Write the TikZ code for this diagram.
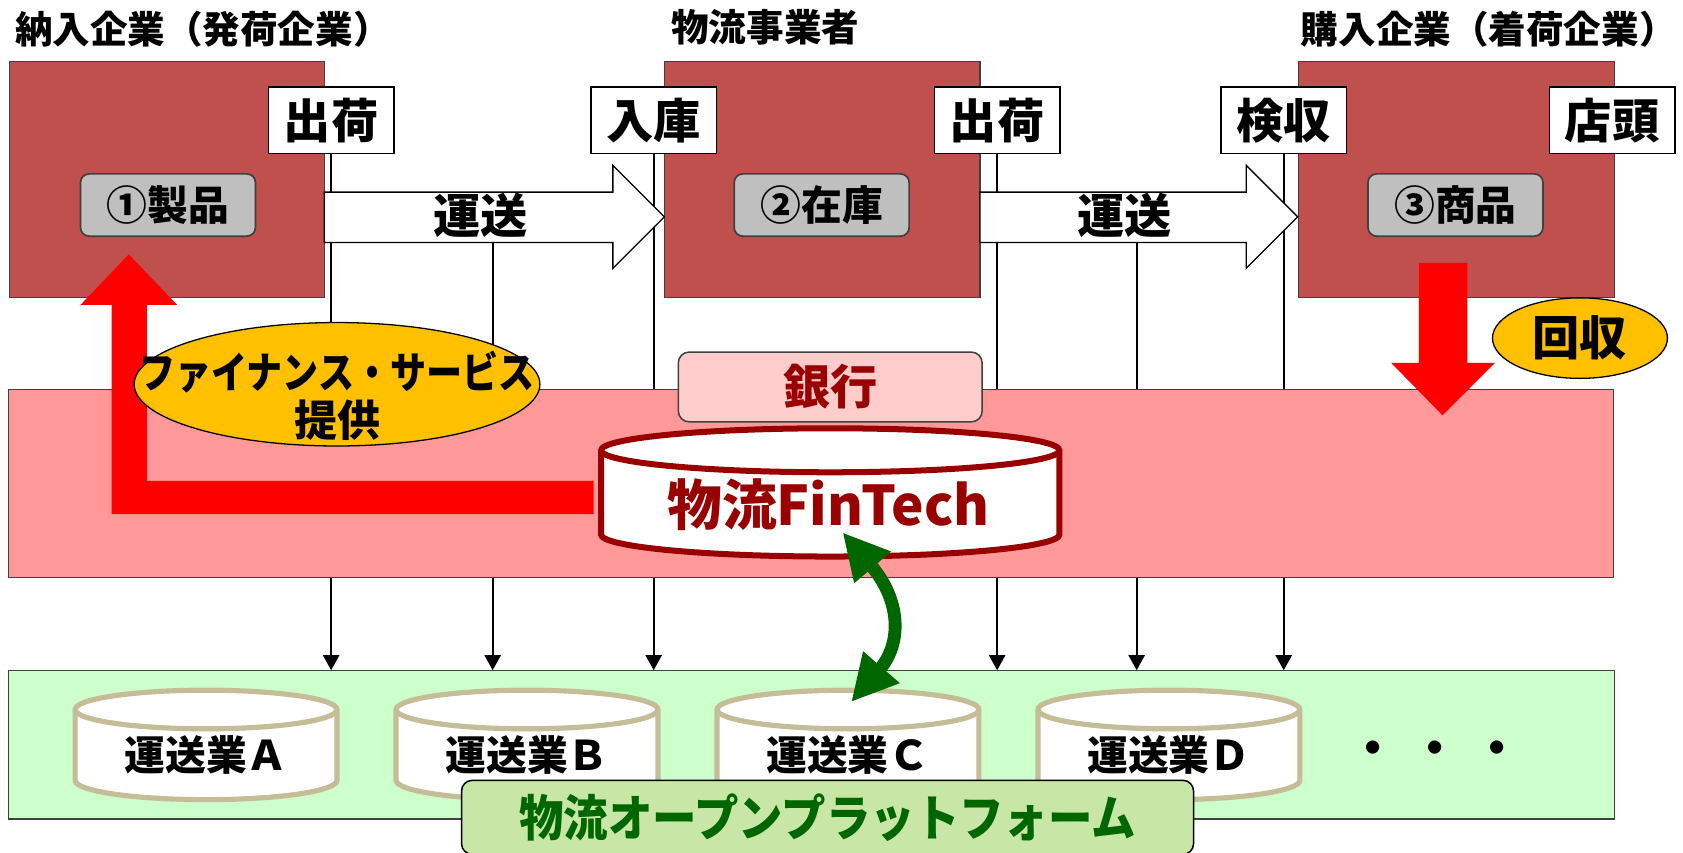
\documentclass[tikz,border=0pt]{standalone}
\usepackage{fontspec}
\usepackage{graphicx}
\setmainfont{Noto Sans CJK JP}
\usetikzlibrary{arrows.meta,shapes.geometric}
\definecolor{boxred}{HTML}{C0504D}
\definecolor{graybox}{HTML}{BFBFBF}
\definecolor{pinkband}{HTML}{FF9999}
\definecolor{bankpink}{HTML}{FFCCCC}
\definecolor{darkred}{HTML}{990000}
\definecolor{gold}{HTML}{FFC000}
\definecolor{brightred}{HTML}{FF0000}
\definecolor{lightgreen}{HTML}{CCFFCC}
\definecolor{tan}{HTML}{C4BD97}
\definecolor{platgreen}{HTML}{C8E6A5}
\definecolor{dkgreen}{HTML}{006600}
\definecolor{edgegray}{HTML}{404040}
\newcommand{\fsz}[1]{\fontsize{#1pt}{#1pt}\selectfont\bfseries}
% cylinder: #1 style, #2 L, #3 R, #4 top centre y, #5 bottom centre y, #6 rx (pt), #7 ry (pt)
\newcommand{\cylshape}[7]{%
  \path[#1] (#2,#4) -- (#2,#5) arc[start angle=180,end angle=360,x radius=#6pt,y radius=#7pt]
    -- (#3,#4) arc[start angle=0,end angle=180,x radius=#6pt,y radius=#7pt] -- cycle;
  \path[#1,fill=none] (#2,#4) arc[start angle=180,end angle=360,x radius=#6pt,y radius=#7pt];}
\tikzset{
  redbox/.style={draw=edgegray,line width=0.6pt,fill=boxred,minimum height=110pt,inner sep=0pt},
  grayrbox/.style={draw=edgegray,line width=0.8pt,fill=graybox,rounded corners=4pt,minimum width=81.5pt,minimum height=29pt,inner sep=0pt,font=\fsz{19}},
  lbl/.style={draw=black,line width=0.7pt,fill=white,minimum width=58.5pt,minimum height=31pt,inner sep=0pt,font=\fsz{22}},
  ttl/.style={font=\fsz{17.5},inner sep=0pt},
  vline/.style={line width=1pt,-{Triangle[length=7pt,width=7.5pt]}},
  whitearrow/.style={draw=black,line width=0.6pt,fill=white},
  redarrow/.style={fill=brightred},
  goldell/.style={ellipse,draw=black,line width=0.6pt,fill=gold,inner sep=0pt},
  cyltan/.style={draw=tan,line width=2.4pt,fill=white},
  cylred/.style={draw=darkred,line width=2.8pt,fill=white},
  cyltxt/.style={font=\fsz{19},inner sep=0pt},
}
\begin{document}
\begin{tikzpicture}[x=0.5pt,y=-0.5pt]
\clip (0,0) rectangle (1568,794);
\fill[white] (0,0) rectangle (1568,794);

% platform band
\node[draw=edgegray,line width=0.6pt,fill=lightgreen,minimum width=748pt,minimum height=69pt,inner sep=0pt] (plat) at (756,694) {};

% labels (needed for lines)
\node[lbl] (l1) at (308.5,112) {出荷};
\node[lbl] (l2) at (609,112) {入庫};
\node[lbl] (l3) at (929,112) {出荷};
\node[lbl] (l4) at (1196,112) {検収};
\coordinate (a1b) at (459,226);
\coordinate (a2b) at (1059,226);

% vertical lines
\draw[vline] (l1.south) -- (l1.south |- plat.north);
\draw[vline] (a1b) -- (a1b |- plat.north);
\draw[vline] (l2.south) -- (l2.south |- plat.north);
\draw[vline] (l3.south) -- (l3.south |- plat.north);
\draw[vline] (a2b) -- (a2b |- plat.north);
\draw[vline] (l4.south) -- (l4.south |- plat.north);

% titles
\node[ttl] (t1) at (189,27) {納入企業（発荷企業）};
\node[ttl] (t2) at (713,25) {物流事業者};
\node[ttl] (t3) at (1387,27) {購入企業（着荷企業）};

% company boxes
\node[redbox,minimum width=146.5pt] (b1) at (155.5,167) {};
\node[redbox,minimum width=147pt] (b2) at (766,167) {};
\node[redbox,minimum width=147pt] (b3) at (1357,167) {};

\node[grayrbox] (g1) at (156.5,191) {①製品};
\node[grayrbox] (g2) at (765.5,191) {②在庫};
\node[grayrbox] (g3) at (1356,191) {③商品};

% labels redrawn on top of boxes
\node[lbl] at (l1) {出荷};
\node[lbl] at (l2) {入庫};
\node[lbl] at (l3) {出荷};
\node[lbl] at (l4) {検収};
\node[lbl] (l5) at (1502,112) {店頭};

% transport arrows
\path[whitearrow] (302,179) -- (571,179) -- (571,154) -- (619,202) -- (571,250) -- (571,226) -- (302,226) -- cycle;
\node[font=\fsz{22},inner sep=0pt] (u1) at (448,201) {運送};
\path[whitearrow] (913,179) -- (1161,179) -- (1161,154) -- (1209,202) -- (1161,250) -- (1161,226) -- (913,226) -- cycle;
\node[font=\fsz{22},inner sep=0pt] (u2) at (1048,201) {運送};

% pink band
\node[draw=edgegray,line width=0.6pt,fill=pinkband,minimum width=747.5pt,minimum height=87.5pt,inner sep=0pt] (band) at (755.5,450.5) {};

% red L arrow
\path[redarrow] (553,448) -- (137,448) -- (137,284) -- (165,284) -- (120,237) -- (75,284) -- (104,284) -- (104,479) -- (553,479) -- cycle;

% finance ellipse
\node[goldell,minimum width=189pt,minimum height=57.5pt] (fin) at (314,358) {};
\node[font=\fsz{20},align=center,inner sep=0pt] (fintxt) at (314,368.5) {\scalebox{0.84}[1]{ファイナンス・サービス}\\[2.5pt]提供};

% bank
\node[draw=edgegray,line width=0.7pt,fill=bankpink,rounded corners=5pt,minimum width=141.5pt,minimum height=32.5pt,inner sep=0pt,text=darkred,font=\fsz{22}] (bank) at (773.5,360.5) {銀行};

% FinTech cylinder
\cylshape{cylred}{560}{987}{419.5}{498}{106.75}{10.25}
\node[text=darkred,font=\fsz{25.5},inner sep=0pt] (ft) at (772,470) {物流FinTech};

% down arrow and recovery
\path[redarrow] (1322,245) -- (1367,245) -- (1367,338) -- (1393,338) -- (1344,387) -- (1296,338) -- (1322,338) -- cycle;
\node[goldell,minimum width=81.5pt,minimum height=37.5pt,font=\fsz{22}] (kai) at (1472,315) {回収};

% carrier cylinders
\cylshape{cyltan}{70}{314}{661}{727}{61}{9}
\node[cyltxt] (ca) at (192,703) {運送業Ａ};
\cylshape{cyltan}{369}{613}{661}{727}{61}{9}
\node[cyltxt] (cb) at (491,703) {運送業Ｂ};
\cylshape{cyltan}{668}{912}{661}{727}{61}{9}
\node[cyltxt] (cc) at (790,703) {運送業Ｃ};
\cylshape{cyltan}{967}{1211}{661}{727}{61}{9}
\node[cyltxt] (cd) at (1089,703) {運送業Ｄ};
\node[font=\fsz{22},inner sep=0pt] (dots) at (1337,702) {・\hspace{7pt}・\hspace{7pt}・};

% green double arrow
\coordinate (gtop) at (785,496);
\coordinate (gbot) at (793,654);
\draw[dkgreen,line width=6pt,{Triangle[length=21.5pt,width=21pt]}-{Triangle[length=21.5pt,width=21pt]}]
  (gtop) .. controls (840,560) and (840,600) .. (gbot);

% platform label
\node[draw=black,line width=0.7pt,fill=platgreen,rounded corners=5pt,minimum width=341pt,minimum height=34.5pt,inner sep=0pt,text=dkgreen,font=\fsz{23}] (pl) at (771,761.5) {\scalebox{0.9}[1]{物流オープンプラットフォーム}};
\end{tikzpicture}
\end{document}
